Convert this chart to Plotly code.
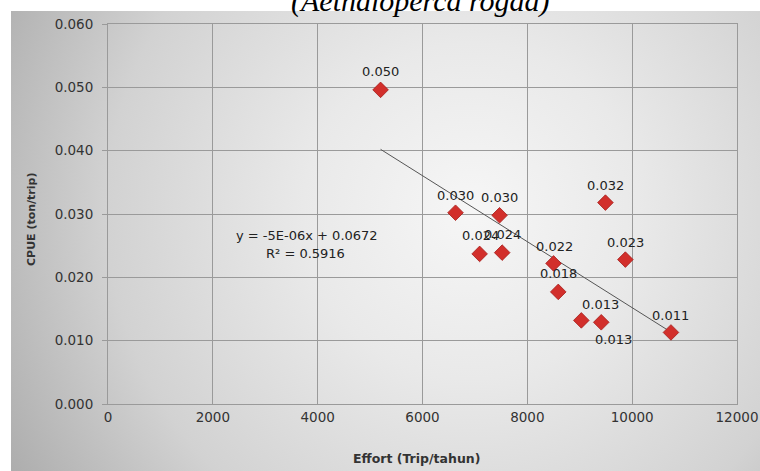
import base64
import numpy as np
import plotly.graph_objects as go

# ---- data ----
effort = [5200, 6630, 7470, 9490, 7090, 7520, 8500, 8590, 9030, 9410, 10740, 9870]
cpue = [0.0496, 0.0302, 0.0298, 0.0318, 0.0237, 0.0239, 0.0222, 0.0177, 0.0132, 0.0129, 0.0113, 0.0228]
x_ticks = [0, 2000, 4000, 6000, 8000, 10000, 12000]
y_ticks = [0.0, 0.01, 0.02, 0.03, 0.04, 0.05, 0.06]
# label offsets (px) relative to each point: style only
label_dx = [0, 0, 0, 0, 1, 0, 1, 0, 19, 12, 0, 0]
label_dy = [-18, -17, -18, -17, -18, -18, -17, -18, -16, 17, -17, -17]
equation_text = "y = -5E-06x + 0.0672"
r2_text = "R² = 0.5916"
title_text = "(Aethaloperca rogaa)"
x_title = "Effort (Trip/tahun)"
y_title = "CPUE (ton/trip)"

W, H = 760, 471
L, R, T, B = 108, 23, 24, 67
pw, ph = W - L - R, H - T - B

def px_x(px):
    return (px - L) / pw

def px_y(py):
    return (H - B - py) / ph

# gradient background as svg image
gw, gh = 749, 460
svg = f'''<svg xmlns="http://www.w3.org/2000/svg" width="{gw}" height="{gh}" preserveAspectRatio="none">
<defs><radialGradient id="g" gradientUnits="userSpaceOnUse" cx="460" cy="200" r="560">
<stop offset="0" stop-color="#f6f6f6"/>
<stop offset="0.3" stop-color="#e9e9e9"/>
<stop offset="0.65" stop-color="#d2d2d2"/>
<stop offset="1" stop-color="#a6a6a6"/>
</radialGradient></defs>
<rect x="0" y="0" width="{gw}" height="{gh}" fill="url(#g)"/>
</svg>'''
src = "data:image/svg+xml;base64," + base64.b64encode(svg.encode()).decode()

slope, intercept = np.polyfit(effort, cpue, 1)
x_line = np.array([min(effort), max(effort)])
y_line = slope * x_line + intercept

labels = [f"{v:.3f}" for v in cpue]

fig = go.Figure()
fig.add_trace(go.Scatter(
    x=x_line, y=y_line, mode="lines",
    line=dict(color="#555555", width=1), hoverinfo="skip", showlegend=False))
fig.add_trace(go.Scatter(
    x=effort, y=cpue, mode="markers",
    marker=dict(symbol="diamond", size=12, color="#d22f2b",
                line=dict(color="#a51d1a", width=0.8)),
    showlegend=False))

txt_font = dict(family="DejaVu Sans", size=13, color="#222222")
annotations = []
for xv, yv, t, dx, dy in zip(effort, cpue, labels, label_dx, label_dy):
    annotations.append(dict(x=xv, y=yv, xref="x", yref="y", text=t, showarrow=False,
                            xanchor="center", yanchor="middle",
                            xshift=dx, yshift=-dy, font=txt_font))
annotations.append(dict(x=px_x(307), y=px_y(235), xref="paper", yref="paper", text=equation_text,
                        showarrow=False, xanchor="center", yanchor="middle", font=txt_font))
annotations.append(dict(x=px_x(305), y=px_y(253), xref="paper", yref="paper", text=r2_text,
                        showarrow=False, xanchor="center", yanchor="middle", font=txt_font))
annotations.append(dict(x=px_x(420), y=px_y(20), xref="paper", yref="paper", text=f"<i>{title_text}</i>",
                        showarrow=False, xanchor="center", yanchor="bottom",
                        font=dict(family="Liberation Serif", size=30, color="#000000")))
annotations.append(dict(x=px_x(416), y=px_y(458), xref="paper", yref="paper", text=f"<b>{x_title}</b>",
                        showarrow=False, xanchor="center", yanchor="middle",
                        font=dict(family="DejaVu Sans", size=12.5, color="#333333")))
annotations.append(dict(x=px_x(31), y=px_y(220), xref="paper", yref="paper", text=f"<b>{y_title}</b>",
                        showarrow=False, textangle=-90, xanchor="center", yanchor="middle",
                        font=dict(family="DejaVu Sans", size=11, color="#333333")))

fig.update_layout(
    width=W, height=H,
    margin=dict(l=L, r=R, t=T, b=B, autoexpand=False),
    paper_bgcolor="white",
    plot_bgcolor="rgba(0,0,0,0)",
    images=[dict(source=src, xref="paper", yref="paper",
                 x=px_x(11), y=px_y(11), sizex=(W - 11) / pw, sizey=(H - 11) / ph,
                 xanchor="left", yanchor="top", sizing="stretch", layer="below")],
    annotations=annotations,
    xaxis=dict(range=[0, 12000], tickvals=x_ticks, ticktext=[str(v) for v in x_ticks],
               showgrid=True, gridcolor="#9a9a9a", gridwidth=1, zeroline=False,
               showline=True, mirror=True, linecolor="#9a9a9a", ticks="",
               automargin=False,
               tickfont=dict(family="DejaVu Sans", size=13.5, color="#333333"),
               ticklabelstandoff=1),
    yaxis=dict(range=[0, 0.06], tickvals=y_ticks, ticktext=[f"{v:.3f}" for v in y_ticks],
               showgrid=True, gridcolor="#9a9a9a", gridwidth=1, zeroline=False,
               showline=True, mirror=True, linecolor="#9a9a9a",
               ticks="outside", ticklen=5, tickcolor="#9a9a9a",
               automargin=False,
               tickfont=dict(family="DejaVu Sans", size=13.5, color="#333333"),
               ticklabelstandoff=6),
)

fig.write_html("out.html", config={"displayModeBar": False},
               post_script="document.body.style.margin='0';document.body.style.overflow='hidden';")
